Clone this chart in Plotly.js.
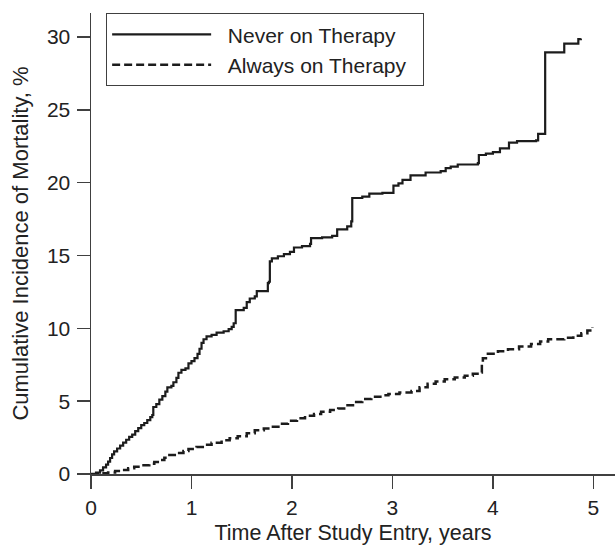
<!DOCTYPE html>
<html>
<head>
<meta charset="utf-8">
<script src="https://cdn.plot.ly/plotly-3.0.1.min.js"></script>
<style>html,body{margin:0;padding:0;background:#fff;}#chart{width:615px;height:545px;}</style>
</head>
<body>
<div id="chart"></div>
<script>
// Never on Therapy: step times (years) and cumulative incidence (%)
const neverTime = [0, 0.05, 0.09, 0.12, 0.15, 0.17, 0.19, 0.21, 0.23, 0.26, 0.29, 0.32, 0.35, 0.38, 0.41, 0.44, 0.47, 0.50, 0.53, 0.56, 0.59, 0.61, 0.62, 0.65, 0.68, 0.71, 0.74, 0.76, 0.80, 0.82, 0.85, 0.87, 0.90, 0.94, 0.97, 1.00, 1.03, 1.06, 1.08, 1.10, 1.12, 1.15, 1.20, 1.25, 1.32, 1.37, 1.40, 1.42, 1.44, 1.52, 1.55, 1.58, 1.63, 1.65, 1.76, 1.77, 1.78, 1.80, 1.86, 1.92, 1.98, 2.02, 2.10, 2.18, 2.19, 2.30, 2.40, 2.45, 2.55, 2.59, 2.60, 2.70, 2.77, 2.90, 3.01, 3.06, 3.10, 3.18, 3.33, 3.48, 3.53, 3.58, 3.65, 3.85, 3.86, 3.93, 4.00, 4.07, 4.16, 4.24, 4.43, 4.45, 4.52, 4.71, 4.85, 4.875];
const neverValue = [0, 0.1, 0.25, 0.45, 0.65, 0.85, 1.1, 1.35, 1.55, 1.75, 1.95, 2.15, 2.35, 2.55, 2.7, 2.95, 3.15, 3.35, 3.5, 3.7, 3.9, 4.05, 4.6, 4.8, 5.1, 5.35, 5.65, 5.95, 6.05, 6.3, 6.6, 6.95, 7.15, 7.25, 7.6, 7.75, 7.95, 8.25, 8.6, 9.0, 9.25, 9.45, 9.55, 9.7, 9.8, 9.95, 10.1, 10.35, 11.25, 11.4, 11.8, 12.05, 12.2, 12.55, 13.1, 13.2, 14.6, 14.8, 14.95, 15.1, 15.25, 15.55, 15.65, 15.8, 16.2, 16.25, 16.35, 16.8, 17.0, 17.35, 18.95, 19.05, 19.25, 19.3, 19.8, 19.95, 20.2, 20.5, 20.7, 20.8, 21.0, 21.1, 21.25, 21.35, 21.9, 22.0, 22.1, 22.35, 22.75, 22.85, 22.9, 23.35, 28.95, 29.55, 29.85, 29.9];

// Always on Therapy
const alwaysTime = [0, 0.10, 0.17, 0.24, 0.30, 0.37, 0.43, 0.50, 0.58, 0.63, 0.68, 0.73, 0.78, 0.85, 0.92, 0.97, 1.05, 1.13, 1.20, 1.30, 1.38, 1.46, 1.55, 1.63, 1.72, 1.79, 1.88, 1.96, 2.05, 2.13, 2.22, 2.29, 2.38, 2.46, 2.54, 2.62, 2.70, 2.79, 2.88, 2.96, 3.07, 3.19, 3.27, 3.35, 3.43, 3.52, 3.62, 3.72, 3.80, 3.87, 3.89, 3.90, 3.95, 4.05, 4.15, 4.26, 4.38, 4.47, 4.55, 4.71, 4.80, 4.88, 4.94, 4.99];
const alwaysValue = [0, 0.05, 0.1, 0.2, 0.28, 0.4, 0.5, 0.6, 0.7, 0.82, 0.96, 1.12, 1.3, 1.45, 1.58, 1.72, 1.85, 2.0, 2.15, 2.32, 2.45, 2.6, 2.8, 3.0, 3.12, 3.25, 3.45, 3.65, 3.82, 4.0, 4.12, 4.28, 4.4, 4.5, 4.72, 4.95, 5.15, 5.3, 5.4, 5.5, 5.6, 5.7, 5.95, 6.2, 6.35, 6.5, 6.62, 6.75, 6.88, 6.97, 7.6, 7.95, 8.25, 8.42, 8.57, 8.75, 8.93, 9.1, 9.25, 9.35, 9.5, 9.67, 9.85, 10.1];

const seriesNames = ["Never on Therapy", "Always on Therapy"];
const xTicks = [0, 1, 2, 3, 4, 5];
const yTicks = [0, 5, 10, 15, 20, 25, 30];
const xTitle = "Time After Study Entry, years";
const yTitle = "Cumulative Incidence of Mortality, %";

const FONT = "Liberation Sans, Arial, Helvetica, sans-serif";
const INK = "#1c1c1c";
const AXIS = "#404040";
const NB = "\u00a0";

const traces = [
  {x: neverTime, y: neverValue, name: NB + NB + seriesNames[0] + NB + NB + NB, type: "scatter", mode: "lines",
   line: {shape: "hv", color: INK, width: 2.2}},
  {x: alwaysTime, y: alwaysValue, name: NB + NB + seriesNames[1] + NB + NB, type: "scatter", mode: "lines",
   line: {shape: "hv", color: INK, width: 2.5, dash: "8px,4px"}}
];

const axisCommon = {
  showline: true, linecolor: AXIS, linewidth: 1.5,
  ticks: "outside", ticklen: 13, tickwidth: 1.5, tickcolor: AXIS,
  showgrid: false, zeroline: false,
  tickfont: {family: FONT, size: 21, color: "#222"}
};

const layout = {
  width: 615, height: 545,
  margin: {l: 91, r: 0, t: 13, b: 71},
  paper_bgcolor: "#fff", plot_bgcolor: "#fff",
  font: {family: FONT, color: "#222"},
  showlegend: true,
  legend: {
    x: 0.0285, y: 1, xanchor: "left", yanchor: "top",
    bordercolor: AXIS, borderwidth: 1.2, bgcolor: "#fff",
    font: {family: FONT, size: 21, color: "#222"},
    itemwidth: 99, tracegroupgap: 0
  },
  xaxis: Object.assign({}, axisCommon, {
    range: [0, 5.215], tickvals: xTicks, ticktext: xTicks.map(String),
    ticklabelstandoff: 1,
    title: {text: xTitle, font: {family: FONT, size: 21.5, color: "#222"}, standoff: 8}
  }),
  yaxis: Object.assign({}, axisCommon, {
    range: [0, 31.65], tickvals: yTicks, ticktext: yTicks.map(String),
    ticklabelstandoff: 2,
    title: {text: yTitle, font: {family: FONT, size: 22, color: "#222"}, standoff: 12}
  })
};

Plotly.newPlot("chart", traces, layout, {displayModeBar: false, staticPlot: true});
</script>
</body>
</html>
